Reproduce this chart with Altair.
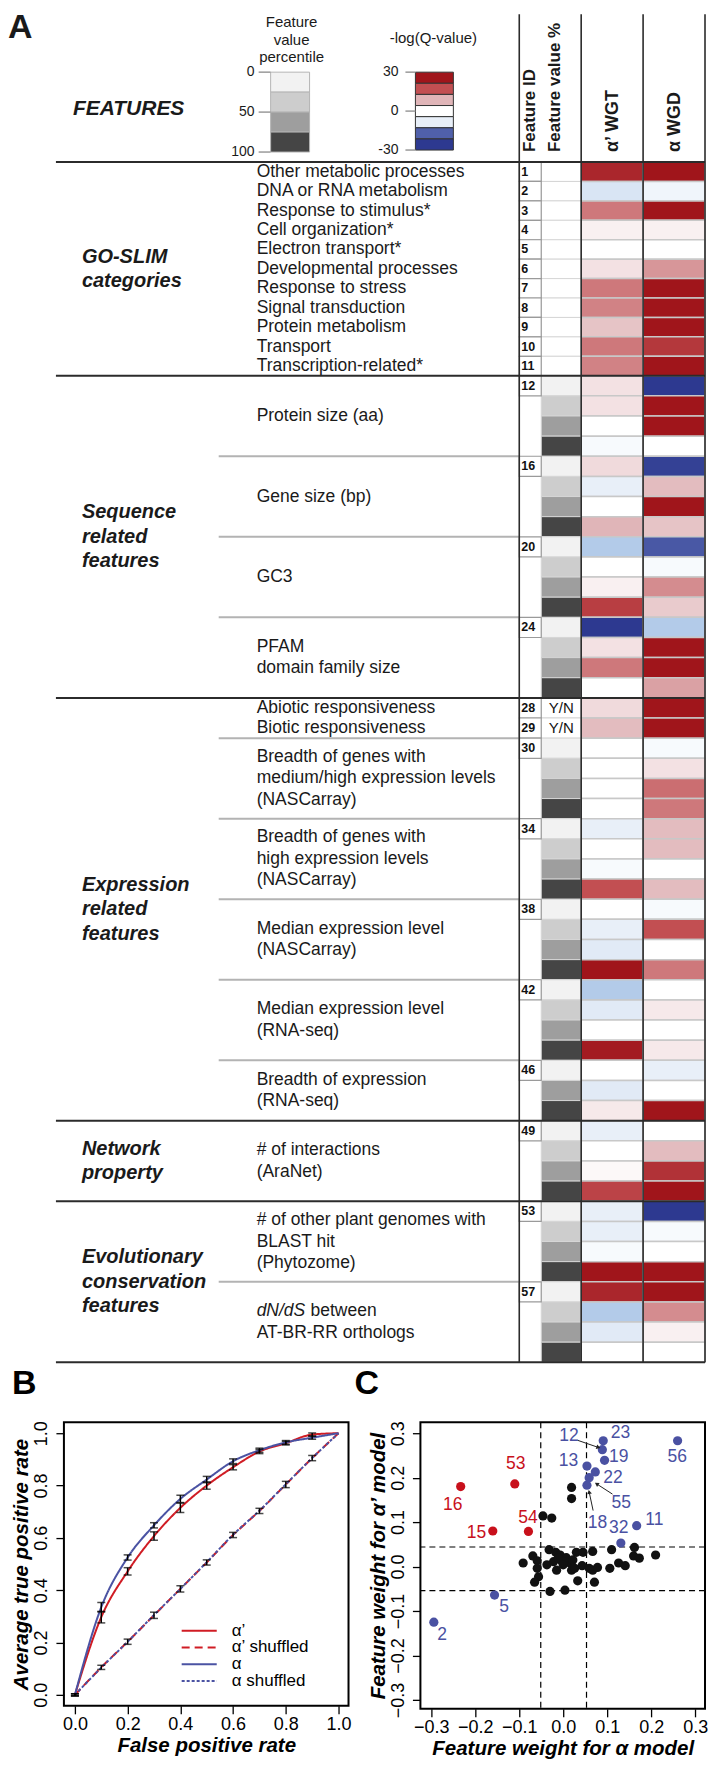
import math
import altair as alt
import pandas as pd

FONT = "Liberation Sans"

# ------------------------------------------------------------------ Panel A data
feature_ids = list(range(1, 61))
alpha_prime_q = [27, -5, 16, 2, 0, 4, 16, 15, 8, 16, 15,
                 4, 4, 0, -1, 5, -3, 0, 10, -10, 0, 2, 23, -30, 4, 16, 0,
                 5, 9, 0, 0, 0, 0, -3, 0, -1, 20, 0, -3, -4, 30, -10, -4, 0, 29, 0, -4, 3,
                 -3, 0, 1, 22,
                 -3, -3, -1, 30, 27, -10, -4, 0]
alpha_q = [30, -2, 30, 2, 0, 13, 30, 30, 30, 24, 30,
           -30, 30, 30, 0, -28, 9, 30, 8, -22, -1, 14, 7, -10, 30, 30, 12,
           30, 30, -1, 4, 17, 16, 9, 9, 0, 9, -1, 20, 0, 16, 0, 3, 0, 3, -3, 0, 30,
           0, 9, 25, 30,
           -30, -1, 0, 30, 30, 14, 2, 0]
percentile_bin = ([""] * 11
                  + ["0-25", "25-50", "50-75", "75-100"] * 4
                  + ["Y/N", "Y/N"]
                  + ["0-25", "25-50", "50-75", "75-100"] * 4
                  + ["0-25", "50-75", "75-100"]
                  + ["0-25", "25-50", "50-75", "75-100"] * 3)
shown_ids = list(range(1, 12)) + [12, 16, 20, 24, 28, 29, 30, 34, 38, 42, 46, 49, 53, 57]

feature_names = ["Other metabolic processes", "DNA or RNA metabolism", "Response to stimulus*",
                 "Cell organization*", "Electron transport*", "Developmental processes",
                 "Response to stress", "Signal transduction", "Protein metabolism", "Transport",
                 "Transcription-related*", "Protein size (aa)", "Gene size (bp)", "GC3",
                 "PFAM\ndomain family size", "Abiotic responsiveness", "Biotic responsiveness",
                 "Breadth of genes with\nmedium/high expression levels\n(NASCarray)",
                 "Breadth of genes with\nhigh expression levels\n(NASCarray)",
                 "Median expression level\n(NASCarray)", "Median expression level\n(RNA-seq)",
                 "Breadth of expression\n(RNA-seq)", "# of interactions\n(AraNet)",
                 "# of other plant genomes with\nBLAST hit\n(Phytozome)",
                 "dN/dS between\nAT-BR-RR orthologs"]
feature_first = list(range(1, 12)) + [12, 16, 20, 24, 28, 29, 30, 34, 38, 42, 46, 49, 53, 57]
feature_last = list(range(1, 12)) + [15, 19, 23, 27, 28, 29, 33, 37, 41, 45, 48, 52, 56, 60]

categories = ["GO-SLIM\ncategories", "Sequence\nrelated\nfeatures", "Expression\nrelated\nfeatures",
              "Network\nproperty", "Evolutionary\nconservation\nfeatures"]
category_first = [1, 12, 28, 49, 53]
category_last = [11, 27, 48, 52, 60]
sub_boundaries = [15, 19, 23, 29, 33, 37, 41, 45, 56]

pct_legend_bins = ["0-25", "25-50", "50-75", "75-100"]
pct_legend_lo = [0, 25, 50, 75]
pct_legend_hi = [25, 50, 75, 100]
pct_ticks = [0, 50, 100]
q_legend_levels = [30, 20, 10, 0, -3, -20, -30]
q_ticks = [30, 0, -30]

# ------------------------------------------------------------------ Panel B data
fpr = [0.0, 0.1, 0.2, 0.3, 0.4, 0.5, 0.6, 0.7, 0.8, 0.9, 1.0]
tpr_alpha_prime = [0.0, 0.297, 0.472, 0.607, 0.715, 0.800, 0.870, 0.930, 0.962, 0.995, 1.0]
tpr_alpha_prime_shuffled = [0.0, 0.105, 0.203, 0.304, 0.405, 0.506, 0.611, 0.703, 0.804, 0.905, 1.0]
tpr_alpha = [0.0, 0.335, 0.525, 0.648, 0.749, 0.823, 0.893, 0.935, 0.965, 0.983, 1.0]
tpr_alpha_shuffled = [0.0, 0.104, 0.203, 0.305, 0.405, 0.507, 0.612, 0.704, 0.805, 0.905, 1.0]
err_alpha_prime = [0.004, 0.022, 0.014, 0.016, 0.018, 0.014, 0.010, 0.008, 0.007, 0.006]
err_alpha = [0.004, 0.018, 0.010, 0.010, 0.014, 0.012, 0.009, 0.008, 0.007, 0.006]
err_shuffled = [0.004, 0.008, 0.010, 0.012, 0.012, 0.010, 0.010, 0.010, 0.012, 0.010]
series_names = ["α’", "α’ shuffled", "α", "α shuffled"]

# ------------------------------------------------------------------ Panel C data
sig_labels = ["2", "5", "15", "54", "16", "53", "32", "11", "18", "55", "22", "13", "12", "23", "19", "56"]
sig_group = ["blue", "blue", "red", "red", "red", "red", "blue", "blue", "blue", "blue", "blue", "blue",
             "blue", "blue", "blue", "blue"]
sig_x = [-0.294, -0.156, -0.160, -0.079, -0.233, -0.110, 0.131, 0.167, 0.054, 0.059, 0.073, 0.054,
         0.089, 0.091, 0.094, 0.260]
sig_y = [-0.125, -0.064, 0.080, 0.079, 0.180, 0.186, 0.053, 0.092, 0.183, 0.200, 0.213, 0.226,
         0.263, 0.283, 0.239, 0.283]
label_x = [-0.275, -0.134, -0.197, -0.080, -0.251, -0.108, 0.126, 0.207, 0.078, 0.132, 0.113, 0.012,
           0.013, 0.130, 0.126, 0.259]
label_y = [-0.154, -0.090, 0.075, 0.110, 0.139, 0.230, 0.086, 0.105, 0.098, 0.143, 0.199, 0.237,
           0.293, 0.300, 0.246, 0.246]
other_x = [0.019, 0.019, -0.046, -0.026, -0.032, -0.017, -0.007, 0.007, 0.030, 0.045, 0.067, 0.110,
           0.162, 0.160, 0.173, 0.210, -0.091, -0.069, -0.059, -0.059, -0.056, -0.065, -0.030, 0.004,
           0.033, 0.071, 0.043, -0.015, -0.022, -0.004, 0.013, 0.019, 0.067, 0.078, 0.106, 0.126,
           0.141, 0.004, -0.011, 0.000, 0.022, -0.037, 0.059, 0.026]
other_y = [0.178, 0.153, 0.114, 0.109, 0.038, 0.032, 0.026, 0.020, 0.032, 0.032, 0.034, 0.038,
           0.043, 0.024, 0.019, 0.026, 0.008, 0.024, 0.013, -0.004, -0.023, -0.035, -0.056, -0.053,
           -0.032, -0.035, 0.002, -0.008, 0.011, 0.013, 0.009, -0.008, -0.008, -0.002, -0.004, 0.008,
           0.002, 0.011, 0.019, 0.004, 0.015, 0.004, -0.004, -0.004]
cut_alpha = [-0.051, 0.053]
cut_alpha_prime = [0.044, -0.054]
arrow_x1 = [0.033, 0.112, 0.068]
arrow_y1 = [0.284, 0.163, 0.126]
arrow_x2 = [0.080, 0.076, 0.059]
arrow_y2 = [0.268, 0.186, 0.168]

# ================================================================== Panel A
# x positions are relative to the left edge of panel B's plot area (vconcat shares the origin)
COL_ID, COL_PCT, COL_AP, COL_A, COL_END = 456, 478, 518, 580, 642
ROW_SCALE = alt.Scale(domain=[0, 11, 60], range=[153, 367, 1355], nice=False, zero=False)
HEAT_SCALE = alt.Scale(domain=[-30, -20, -10, 0, 10, 20, 30],
                       range=["#2d3990", "#5060aa", "#b3cbe9", "#ffffff", "#e0b5b8", "#c24f52", "#a0151b"],
                       interpolate="rgb")
PCT_SCALE = alt.Scale(domain=["0-25", "25-50", "50-75", "75-100", "Y/N", "none"],
                      range=["#f2f2f2", "#cdcdcd", "#9e9e9e", "#454545", "#ffffff", "#ffffff"])

rows = pd.DataFrame({"id": feature_ids, "ap": alpha_prime_q, "a": alpha_q, "pct": percentile_bin})
rows["y0"] = rows["id"] - 1
rows["y1"] = rows["id"]
rows["yc"] = rows["id"] - 0.5
rows["pct_key"] = rows["pct"].replace("", "none")
rows["idtxt"] = rows["id"].astype(str)
idrows = rows[rows["id"].isin(shown_ids)]
ynrows = rows[rows["pct"] == "Y/N"]

Y0 = alt.Y("y0:Q", scale=ROW_SCALE, axis=None)
YC = alt.Y("yc:Q", scale=ROW_SCALE, axis=None)

heat_ap = alt.Chart(rows).mark_rect(stroke="#c8c8c8", strokeWidth=1.5).encode(
    x=alt.value(COL_AP), x2=alt.value(COL_A), y=Y0, y2="y1:Q",
    color=alt.Color("ap:Q", scale=HEAT_SCALE, legend=None))
heat_a = alt.Chart(rows).mark_rect(stroke="#c8c8c8", strokeWidth=1.5).encode(
    x=alt.value(COL_A), x2=alt.value(COL_END), y=Y0, y2="y1:Q",
    color=alt.Color("a:Q", scale=HEAT_SCALE, legend=None))
grey = alt.Chart(rows).mark_rect(stroke="#d6d6d6", strokeWidth=1).encode(
    x=alt.value(COL_PCT), x2=alt.value(COL_AP), y=Y0, y2="y1:Q",
    fill=alt.Fill("pct_key:N", scale=PCT_SCALE, legend=None))
idbox = alt.Chart(idrows).mark_rect(fill="white", stroke="#9a9a9a", strokeWidth=1.2).encode(
    x=alt.value(COL_ID), x2=alt.value(COL_PCT), y=Y0, y2="y1:Q")
idtext = alt.Chart(idrows).mark_text(align="left", baseline="middle", fontSize=12.5,
                                     fontWeight="bold", font=FONT, color="#111").encode(
    x=alt.value(COL_ID + 2), y=YC, text="idtxt:N")
yntext = alt.Chart(ynrows).mark_text(align="center", baseline="middle", fontSize=15,
                                     font=FONT, color="#111").encode(
    x=alt.value((COL_PCT + COL_AP) / 2), y=YC, text="pct:N")

sec_df = pd.DataFrame({"b": [category_first[0] - 1] + category_last})
sec_lines = alt.Chart(sec_df).mark_rule(color="#2b2b2b", strokeWidth=2).encode(
    y=alt.Y("b:Q", scale=ROW_SCALE, axis=None), x=alt.value(-8), x2=alt.value(COL_END))
sub_df = pd.DataFrame({"b": sub_boundaries})
sub_lines = alt.Chart(sub_df).mark_rule(color="#b3b3b3", strokeWidth=2).encode(
    y=alt.Y("b:Q", scale=ROW_SCALE, axis=None), x=alt.value(155), x2=alt.value(COL_ID))

one = pd.DataFrame({"k": [0]})
frame_lines = [alt.Chart(one).mark_rule(color="#2b2b2b", strokeWidth=1.6).encode(
    x=alt.value(xv), y=alt.value(5), y2=alt.value(1355)) for xv in [COL_ID, COL_AP, COL_A, COL_END]]

FEAT_X = 193
FEAT_LH = 21.5
feat = pd.DataFrame({"text": feature_names, "first": feature_first, "last": feature_last})
feat["yc"] = (feat["first"] - 1 + feat["last"]) / 2
feat["shown"] = feat["text"].str.replace("dN/dS between", "", regex=False)
feat["n"] = feat["text"].str.count("\n") + 1
feat_layers = []
for n in sorted(feat["n"].unique()):
    feat_layers.append(
        alt.Chart(feat[feat["n"] == n]).mark_text(
            align="left", baseline="middle", fontSize=17.5, font=FONT, lineBreak="\n",
            lineHeight=FEAT_LH, color="#1a1a1a", dy=-(n - 1) * FEAT_LH / 2).encode(
            x=alt.value(FEAT_X), y=YC, text="shown:N"))
dnds = feat[feat["text"].str.startswith("dN/dS")]
dnds_it = alt.Chart(dnds).mark_text(align="left", baseline="middle", fontSize=17.5, font=FONT,
                                    fontStyle="italic", dy=-FEAT_LH / 2, color="#1a1a1a",
                                    text="dN/dS").encode(x=alt.value(FEAT_X), y=YC)
dnds_rest = alt.Chart(dnds).mark_text(align="left", baseline="middle", fontSize=17.5, font=FONT,
                                      dy=-FEAT_LH / 2, color="#1a1a1a", text="between").encode(
    x=alt.value(FEAT_X + 54), y=YC)

CAT_LH = 24.5
cat = pd.DataFrame({"text": categories, "first": category_first, "last": category_last})
cat["yc"] = (cat["first"] - 1 + cat["last"]) / 2
cat["n"] = cat["text"].str.count("\n") + 1
cat_layers = []
for n in sorted(cat["n"].unique()):
    cat_layers.append(
        alt.Chart(cat[cat["n"] == n]).mark_text(
            align="left", baseline="middle", fontSize=20, font=FONT, fontWeight="bold",
            fontStyle="italic", lineBreak="\n", lineHeight=CAT_LH, color="#1a1a1a",
            dy=-(n - 1) * CAT_LH / 2).encode(
            x=alt.value(18), y=YC, text="text:N"))


def label(text, x, y, size, weight="normal", style="normal", align="left", baseline="middle",
          angle=0, line_height=None):
    kw = dict(align=align, baseline=baseline, fontSize=size, font=FONT, fontWeight=weight,
              fontStyle=style, color="#1a1a1a", lineBreak="\n")
    if angle:
        kw["angle"] = angle
    if line_height:
        kw["lineHeight"] = line_height
    return alt.Chart(pd.DataFrame({"t": [text]})).mark_text(**kw).encode(
        x=alt.value(x), y=alt.value(y), text="t:N")


header = [
    label("A", -56, 2, 34, weight="bold", baseline="top"),
    label("FEATURES", 9, 100, 21, weight="bold", style="italic"),
    label("Feature\nvalue\npercentile", 228, 13, 15, align="center", line_height=17.5),
    label("-log(Q-value)", 370, 29, 15, align="center"),
    label("Feature ID", COL_ID + 11, 143, 17, weight="bold", angle=270),
    label("Feature value %", COL_ID + 36, 143, 17, weight="bold", angle=270),
    label("α’ WGT", (COL_AP + COL_A) / 2 + 1, 143, 18, weight="bold", angle=270),
    label("α WGD", (COL_A + COL_END) / 2 + 1, 143, 18, weight="bold", angle=270),
]

rows_layer = alt.layer(heat_ap, heat_a, grey, idbox, sub_lines, sec_lines, *frame_lines,
                       idtext, yntext, *feat_layers, dnds_it, dnds_rest, *cat_layers, *header)

# legend: feature value percentile
PCT_LEG_Y = alt.Scale(domain=[0, 100], range=[63, 143], nice=False, zero=False)
pct_leg = pd.DataFrame({"bin": pct_legend_bins, "lo": pct_legend_lo, "hi": pct_legend_hi})
pct_tk = pd.DataFrame({"t": pct_ticks, "lab": [str(v) for v in pct_ticks]})
grey_leg = alt.layer(
    alt.Chart(pct_leg).mark_rect(stroke="#b5b5b5", strokeWidth=1).encode(
        x=alt.value(207), x2=alt.value(246),
        y=alt.Y("lo:Q", scale=PCT_LEG_Y, axis=None), y2="hi:Q",
        fill=alt.Fill("bin:N", scale=PCT_SCALE, legend=None)),
    alt.Chart(pct_tk).mark_rule(color="#9a9a9a", strokeWidth=1.5).encode(
        x=alt.value(195), x2=alt.value(207), y=alt.Y("t:Q", scale=PCT_LEG_Y, axis=None)),
    alt.Chart(pct_tk).mark_text(align="right", baseline="middle", fontSize=14, font=FONT,
                                color="#1a1a1a").encode(
        x=alt.value(191), y=alt.Y("t:Q", scale=PCT_LEG_Y, axis=None), text="lab:N"),
)

# legend: -log(Q-value)
Q_LEG_Y = alt.Scale(domain=[-30, 30], range=[141, 63], nice=False, zero=False)
n_q = len(q_legend_levels)
q_leg = pd.DataFrame({"v": q_legend_levels,
                      "top": [30 - i * 60 / n_q for i in range(n_q)],
                      "bot": [30 - (i + 1) * 60 / n_q for i in range(n_q)]})
q_tk = pd.DataFrame({"t": q_ticks, "lab": [str(v) for v in q_ticks]})
q_leg_layer = alt.layer(
    alt.Chart(q_leg).mark_rect(stroke="#333333", strokeWidth=1).encode(
        x=alt.value(352), x2=alt.value(390),
        y=alt.Y("top:Q", scale=Q_LEG_Y, axis=None), y2="bot:Q",
        color=alt.Color("v:Q", scale=HEAT_SCALE, legend=None)),
    alt.Chart(q_tk).mark_rule(color="#9a9a9a", strokeWidth=1.5).encode(
        x=alt.value(342), x2=alt.value(352), y=alt.Y("t:Q", scale=Q_LEG_Y, axis=None)),
    alt.Chart(q_tk).mark_text(align="right", baseline="middle", fontSize=14, font=FONT,
                              color="#1a1a1a").encode(
        x=alt.value(335), y=alt.Y("t:Q", scale=Q_LEG_Y, axis=None), text="lab:N"),
)

panel_a = alt.layer(rows_layer, grey_leg, q_leg_layer).resolve_scale(y="independent").properties(
    width=COL_END, height=1355, view=alt.ViewBackground(stroke=None))

# ================================================================== Panel B
RED = "#d01c24"
BLUE = "#4b53a3"
roc = pd.concat([
    pd.DataFrame({"fpr": fpr, "tpr": vals, "series": name, "k": i})
    for i, (name, vals) in enumerate(zip(series_names, [tpr_alpha_prime, tpr_alpha_prime_shuffled,
                                                         tpr_alpha, tpr_alpha_shuffled]))
])
err = pd.concat([
    pd.DataFrame({"x": fpr[:10], "lo": [v - e for v, e in zip(vals[:10], es)],
                  "hi": [v + e for v, e in zip(vals[:10], es)]})
    for vals, es in [(tpr_alpha_prime, err_alpha_prime), (tpr_alpha, err_alpha),
                     (tpr_alpha_prime_shuffled, err_shuffled)]
])

BX = alt.Scale(domain=[-0.0417, 1.0379], nice=False, zero=False)
BY = alt.Scale(domain=[-0.042, 1.042], nice=False, zero=False)
TICKS01 = [0, 0.2, 0.4, 0.6, 0.8, 1.0]
SER_COLOR = alt.Scale(domain=series_names, range=[RED, RED, BLUE, BLUE])
SER_DASH = alt.Scale(domain=series_names, range=[[1, 0], [8, 5], [1, 0], [3, 2]])


def x_axis(title, values):
    return alt.Axis(title=title, values=values, format=".1f", grid=False, domain=False,
                    tickSize=8, tickWidth=1.3, tickColor="black", labelColor="black",
                    labelFontSize=18, labelFont=FONT, labelPadding=2, labelFlush=False,
                    labelOverlap=False, titleFont=FONT, titleFontSize=20.5, titleFontWeight="bold",
                    titleFontStyle="italic", titleColor="black", titlePadding=2)


def y_axis(title, values):
    return alt.Axis(title=title, values=values, format=".1f", grid=False, domain=False,
                    tickSize=8, tickWidth=1.3, tickColor="black", labelColor="black",
                    labelFontSize=18, labelFont=FONT, labelAngle=270, labelAlign="center",
                    labelBaseline="bottom", labelPadding=5, labelFlush=False, labelOverlap=False,
                    titleFont=FONT, titleFontSize=20.5, titleFontWeight="bold",
                    titleFontStyle="italic", titleColor="black", titlePadding=1)


lines = alt.Chart(roc).mark_line(strokeWidth=2, interpolate="monotone").encode(
    x=alt.X("fpr:Q", scale=BX, axis=x_axis("False positive rate", TICKS01)),
    y=alt.Y("tpr:Q", scale=BY, axis=y_axis("Average true positive rate", TICKS01)),
    color=alt.Color("series:N", scale=SER_COLOR, legend=None),
    strokeDash=alt.StrokeDash("series:N", scale=SER_DASH, legend=None),
    order="k:Q",
)
ebar = alt.Chart(err).mark_rule(color="black", strokeWidth=1.5).encode(
    x=alt.X("x:Q", scale=BX), y=alt.Y("lo:Q", scale=BY), y2="hi:Q")
ecap_lo = alt.Chart(err).mark_tick(color="black", orient="horizontal", size=8, thickness=1.5).encode(
    x=alt.X("x:Q", scale=BX), y=alt.Y("lo:Q", scale=BY))
ecap_hi = alt.Chart(err).mark_tick(color="black", orient="horizontal", size=8, thickness=1.5).encode(
    x=alt.X("x:Q", scale=BX), y=alt.Y("hi:Q", scale=BY))

# in-plot legend (R style), placed in data units of the plot
LEG_TOP, LEG_STEP = 0.245, 0.064
LEG_X1, LEG_X2, LEG_TX = 0.405, 0.538, 0.595
leg_df = pd.DataFrame({"series": series_names})
leg_df["y"] = [LEG_TOP - LEG_STEP * i for i in range(len(series_names))]
leg_df["x1"] = LEG_X1
leg_df["x2"] = LEG_X2
leg_df["tx"] = LEG_TX
leg_lines = alt.Chart(leg_df).mark_rule(strokeWidth=2).encode(
    x=alt.X("x1:Q", scale=BX), x2="x2:Q", y=alt.Y("y:Q", scale=BY),
    color=alt.Color("series:N", scale=SER_COLOR, legend=None),
    strokeDash=alt.StrokeDash("series:N", scale=SER_DASH, legend=None))
leg_text = alt.Chart(leg_df).mark_text(align="left", baseline="middle", fontSize=17, font=FONT,
                                       color="black").encode(
    x=alt.X("tx:Q", scale=BX), y=alt.Y("y:Q", scale=BY), text="series:N")

panel_b = alt.layer(lines, ebar, ecap_lo, ecap_hi, leg_lines, leg_text).properties(
    width=285, height=284,
    view=alt.ViewBackground(stroke="black", strokeWidth=2),
    title=alt.TitleParams("B", anchor="start", frame="bounds", fontSize=34, fontWeight="bold",
                          font=FONT, color="black", dx=0, offset=20),
)

# ================================================================== Panel C
CX = alt.Scale(domain=[-0.3245, 0.3223], nice=False, zero=False)
CY = alt.Scale(domain=[-0.320, 0.3247], nice=False, zero=False)
C_W, C_H = 285, 287
TICKS_C = [-0.3, -0.2, -0.1, 0.0, 0.1, 0.2, 0.3]
PT_SCALE = alt.Scale(domain=["blue", "red", "black"], range=["#4a51a2", "#c8101b", "#111111"])

pts = pd.concat([
    pd.DataFrame({"x": other_x, "y": other_y, "grp": "black"}),
    pd.DataFrame({"x": sig_x, "y": sig_y, "grp": sig_group}),
])
labs = pd.DataFrame({"x": label_x, "y": label_y, "grp": sig_group, "t": sig_labels})
cuts_v = pd.DataFrame({"v": cut_alpha})
cuts_h = pd.DataFrame({"v": cut_alpha_prime})
PXX = C_W / (0.3223 + 0.3245)
PXY = C_H / (0.3247 + 0.320)
arrows = pd.DataFrame({"x1": arrow_x1, "y1": arrow_y1, "x2": arrow_x2, "y2": arrow_y2})
arrows["ang"] = [
    (math.degrees(math.atan2((b - a) * PXX, (d - c) * PXY)) + 360) % 360
    for a, b, c, d in zip(arrow_x1, arrow_x2, arrow_y1, arrow_y2)
]

vrules = alt.Chart(cuts_v).mark_rule(color="black", strokeWidth=1.2, strokeDash=[6, 4]).encode(
    x=alt.X("v:Q", scale=CX, axis=x_axis("Feature weight for α model", TICKS_C)))
hrules = alt.Chart(cuts_h).mark_rule(color="black", strokeWidth=1.2, strokeDash=[6, 4]).encode(
    y=alt.Y("v:Q", scale=CY, axis=y_axis("Feature weight for α’ model", TICKS_C)))
dots = alt.Chart(pts).mark_circle(size=85, opacity=1).encode(
    x=alt.X("x:Q", scale=CX), y=alt.Y("y:Q", scale=CY),
    color=alt.Color("grp:N", scale=PT_SCALE, legend=None))
dot_labels = alt.Chart(labs).mark_text(fontSize=17.5, font=FONT, align="center",
                                       baseline="middle").encode(
    x=alt.X("x:Q", scale=CX), y=alt.Y("y:Q", scale=CY), text="t:N",
    color=alt.Color("grp:N", scale=PT_SCALE, legend=None))
arrow_lines = alt.Chart(arrows).mark_rule(color="#222222", strokeWidth=1).encode(
    x=alt.X("x1:Q", scale=CX), y=alt.Y("y1:Q", scale=CY), x2="x2:Q", y2="y2:Q")
arrow_heads = alt.Chart(arrows).mark_point(shape="triangle-up", filled=True, size=22,
                                           color="#222222", opacity=1).encode(
    x=alt.X("x2:Q", scale=CX), y=alt.Y("y2:Q", scale=CY), angle=alt.Angle("ang:Q", scale=None))

panel_c = alt.layer(vrules, hrules, dots, dot_labels, arrow_lines, arrow_heads).properties(
    width=C_W, height=C_H,
    view=alt.ViewBackground(stroke="black", strokeWidth=2),
    title=alt.TitleParams("C", anchor="start", frame="bounds", fontSize=34, fontWeight="bold",
                          font=FONT, color="black", dx=-14, offset=20),
)

RES = dict(color="independent", fill="independent", strokeDash="independent")
bottom = alt.hconcat(panel_b, panel_c, spacing=0).resolve_scale(**RES).resolve_legend(
    color="independent", strokeDash="independent")
chart = alt.vconcat(panel_a, bottom, spacing=2).resolve_scale(**RES).resolve_legend(
    color="independent", strokeDash="independent", fill="independent").properties(
    padding=0, background="white").configure(font=FONT)

chart.save("out.html", embed_options={"renderer": "svg", "actions": False})
